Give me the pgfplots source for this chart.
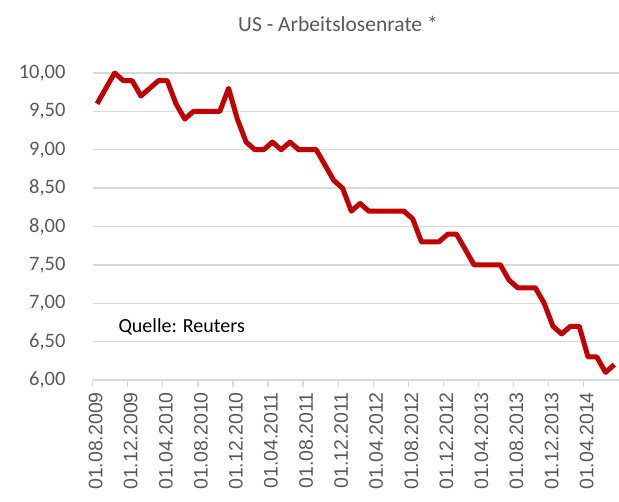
\documentclass[border=0pt]{standalone}
\usepackage{pgfplots}
\pgfplotsset{compat=1.18}
\usepackage{fontspec}
\setmainfont{Carlito}
\newfontfamily\arialfont{Liberation Sans}
\definecolor{txtgray}{HTML}{595959}
\definecolor{gridgray}{HTML}{D9D9D9}
\definecolor{linered}{HTML}{C00000}
\begin{document}
\begin{tikzpicture}[x=1pt,y=1pt]
\useasboundingbox (0,0) rectangle (619,502);
\begin{axis}[
  at={(92.7pt,122pt)}, anchor=south west,
  scale only axis, width=526pt, height=307pt,
  xmin=-0.5, xmax=59.5, ymin=6, ymax=10,
  clip=false,
  axis x line*=bottom, axis y line*=left,
  x axis line style={-, draw=gridgray, line width=1.6pt},
  y axis line style={draw=none},
  xtick={-0.5,3.5,...,55.5},
  xticklabels={01.08.2009,01.12.2009,01.04.2010,01.08.2010,01.12.2010,01.04.2011,01.08.2011,01.12.2011,01.04.2012,01.08.2012,01.12.2012,01.04.2013,01.08.2013,01.12.2013,01.04.2014},
  tick align=outside,
  major tick length=7pt,
  xtick style={draw=gridgray, line width=1.3pt},
  ytick={6,6.5,...,10},
  ytick style={draw=none},
  ymajorgrids,
  grid style={draw=gridgray, line width=1.4pt},
  /pgf/number format/assume math mode=true,
  yticklabel={\pgfmathprintnumber[fixed,fixed zerofill,precision=2,use comma]{\tick}},
  yticklabel style={font=\fontsize{20.5}{24}\selectfont, text=txtgray, inner sep=0pt, xshift=-20pt, anchor=east},
  xticklabel style={font=\arialfont\fontsize{19.5}{23}\selectfont, text=txtgray, xshift=3pt, yshift=-5pt, rotate=90, anchor=east, inner sep=0pt},
]
\addplot[color=linered, line width=5pt, line join=round, mark=none] coordinates {
(0,9.6)(1,9.8)(2,10.0)(3,9.9)(4,9.9)(5,9.7)(6,9.8)(7,9.9)(8,9.9)(9,9.6)
(10,9.4)(11,9.5)(12,9.5)(13,9.5)(14,9.5)(15,9.8)(16,9.4)(17,9.1)(18,9.0)(19,9.0)
(20,9.1)(21,9.0)(22,9.1)(23,9.0)(24,9.0)(25,9.0)(26,8.8)(27,8.6)(28,8.5)(29,8.2)
(30,8.3)(31,8.2)(32,8.2)(33,8.2)(34,8.2)(35,8.2)(36,8.1)(37,7.8)(38,7.8)(39,7.8)
(40,7.9)(41,7.9)(42,7.7)(43,7.5)(44,7.5)(45,7.5)(46,7.5)(47,7.3)(48,7.2)(49,7.2)
(50,7.2)(51,7.0)(52,6.7)(53,6.6)(54,6.7)(55,6.7)(56,6.3)(57,6.3)(58,6.1)(59,6.2)
};
\end{axis}
\node[font=\fontsize{21.5}{25}\selectfont, text=txtgray] at (338,478) {US - Arbeitslosenrate *};
\node[font=\fontsize{20}{24}\selectfont, text=black, anchor=west] at (115,175) {Quelle: Reuters};
\end{tikzpicture}
\end{document}
